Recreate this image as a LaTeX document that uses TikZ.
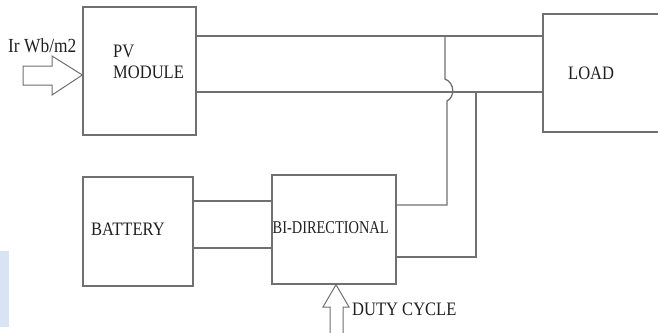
\documentclass[tikz,border=0pt]{standalone}
\usepackage{fontspec}
\setmainfont{Liberation Serif}[FakeStretch=0.87]
\newfontfamily\narrowfont{Liberation Serif}[FakeStretch=0.8]
\definecolor{linegray}{RGB}{112,112,112}
\definecolor{txtgray}{RGB}{32,32,32}
\definecolor{paleblue}{RGB}{216,228,244}
\begin{document}
\begin{tikzpicture}[x=1pt,y=-1pt,
  blockbox/.style={draw=linegray,line width=1.3pt,rectangle,inner sep=0pt},
  wire/.style={draw=linegray,line width=1.3pt},
  label/.style={inner sep=0pt,anchor=west,text=txtgray,font=\fontsize{19}{21}\selectfont},
  hollowarrow/.style={draw=linegray,line width=1pt,fill=white,line join=miter}]
\useasboundingbox (0,0) rectangle (658,332);
\begin{scope}
\clip (0,0) rectangle (658,332);
% faint watermark patch
\fill[paleblue] (0,251) rectangle (9,327);
% blocks
\node[blockbox,minimum width=113pt,minimum height=128pt] (pv) at (139.5,71) {};
\node[blockbox,minimum width=140pt,minimum height=118pt] (load) at (613,73) {};
\node[blockbox,minimum width=110pt,minimum height=109pt] (bat) at (138,231.5) {};
\node[blockbox,minimum width=124pt,minimum height=109pt] (conv) at (334,229.5) {};
% texts
\node[label,font=\fontsize{20}{21}\selectfont] (irtxt) at (8,46) {Ir Wb/m2};
\node[label,align=left] (pvtxt) at (113,62) {PV\\MODULE};
\node[label] (loadtxt) at (568,73) {LOAD};
\node[label] (battxt) at (91,229) {BATTERY};
\node[label,font=\narrowfont\fontsize{18}{20}\selectfont] (convtxt) at (272.5,228) {BI-DIRECTIONAL};
\node[label] (dutytxt) at (352,309) {DUTY CYCLE};
% PV to load
\draw[wire] (pv.east |- 0,36) -- (load.west |- 0,36);
\draw[wire] (pv.east |- 0,92) -- (load.west |- 0,92);
% battery to converter
\draw[wire] (bat.east |- 0,201) -- (conv.west |- 0,201);
\draw[wire] (bat.east |- 0,248) -- (conv.west |- 0,248);
% converter to load bus
\coordinate (j1) at (445,36);
\coordinate (j2) at (476,92);
\draw[wire] (j1) -- (445,79) .. controls (455,83) and (455,97) .. (447,101) -- (447,205) -- (conv.east |- 0,205);
\draw[wire] (j2) -- (476,257) -- (conv.east |- 0,257);
% irradiance arrow
\draw[hollowarrow] (23,66) -- (52,66) -- (52,56) -- (pv.west |- 0,75) -- (52,95) -- (52,85) -- (23,85) -- cycle;
% duty cycle arrow
\draw[hollowarrow] (conv.south -| 336,0) -- (349,307) -- (343,307) -- (343,340) -- (330,340) -- (330,307) -- (323,307) -- cycle;
\end{scope}
\end{tikzpicture}
\end{document}
